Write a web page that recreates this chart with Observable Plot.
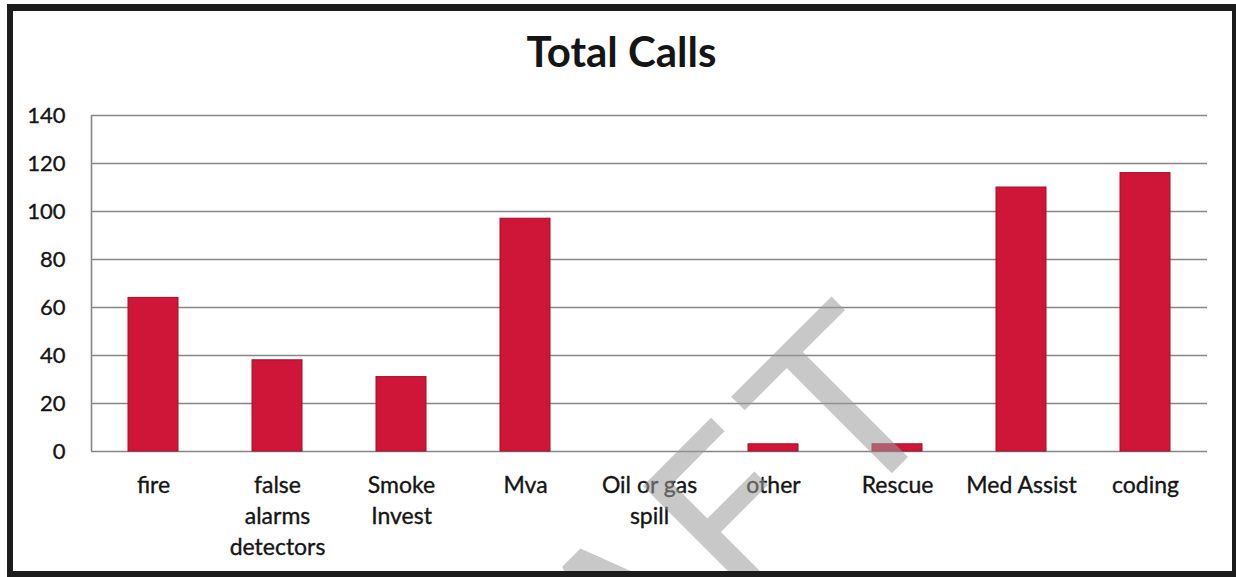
<!DOCTYPE html>
<html>
<head>
<meta charset="utf-8">
<script src="https://cdn.jsdelivr.net/npm/d3@7"></script>
<script src="https://cdn.jsdelivr.net/npm/@observablehq/plot@0.6"></script>
<style>
  html, body { margin: 0; padding: 0; background: #fff; }
  body { width: 1236px; height: 577px; overflow: hidden; position: relative; font-family: Lato, "Open Sans", sans-serif; }
  #chart { position: absolute; left: 0; top: 90px; }
  #chart text { stroke: #151515; stroke-width: 0.35px; }
  #title { position: absolute; left: 13px; width: 1217px; top: 30px; text-align: center; font: bold 42px/42px Lato, sans-serif; color: #151515; }
  #watermark { position: absolute; left: 0; top: 0; pointer-events: none; }
  #frame { position: absolute; left: 7px; top: 4px; width: 1229px; height: 573px; box-sizing: border-box;
           border-style: solid; border-color: #1c1c1c; border-width: 7px 4px 6px 6px; pointer-events: none; }
</style>
</head>
<body>
<div id="chart"></div>
<div id="title">Total Calls</div>
<svg id="watermark" width="1236" height="577">
  <g fill="#9a9a9a" fill-opacity="0.55" font-family="DejaVu Sans" font-size="230">
    <text x="839" y="527" text-anchor="end" transform="rotate(-45 839 527)">DRAF</text>
    <text x="900" y="465" text-anchor="middle" transform="rotate(-45 900 465)">T</text>
  </g>
</svg>
<div id="frame"></div>
<script>
const categories = ["fire", "false alarms detectors", "Smoke Invest", "Mva", "Oil or gas spill", "other", "Rescue", "Med Assist", "coding"];
const values = [64, 38, 31, 97, 0, 3, 3, 110, 116];
const tickLabels = ["fire", "false\nalarms\ndetectors", "Smoke\nInvest", "Mva", "Oil or gas\nspill", "other", "Rescue", "Med Assist", "coding"];
const yTicks = [0, 20, 40, 60, 80, 100, 120, 140];

const data = categories.map((c, i) => ({category: c, value: values[i]}));
const labelOf = new Map(categories.map((c, i) => [c, tickLabels[i]]));

const gridColor = "#868686";

const chart = Plot.plot({
  width: 1236,
  height: 480,
  marginLeft: 91,
  marginRight: 29,
  marginTop: 25,
  marginBottom: 119,
  style: {fontFamily: "Lato, sans-serif", fontSize: "22px", color: "#151515", background: "transparent", overflow: "visible"},
  x: {domain: categories, paddingInner: 0.6, paddingOuter: 0.3, label: null},
  y: {domain: [0, 140], label: null},
  marks: [
    Plot.gridY(yTicks, {stroke: gridColor, strokeOpacity: 1, strokeWidth: 1.6}),
    Plot.ruleX([categories[0]], {dx: -62, y1: 0, y2: 140, stroke: gridColor, strokeWidth: 1.6}),
    Plot.barY(data, {x: "category", y: "value", fill: "#cf1639", stroke: "#a50f2b", strokeWidth: 1}),
    Plot.axisY({ticks: yTicks, tickSize: 0, tickPadding: 26, fontSize: 22, label: null}),
    Plot.axisX({tickSize: 0, tickPadding: 19, fontSize: 23, lineHeight: 1.35, label: null,
                tickFormat: d => labelOf.get(d)})
  ]
});
document.getElementById("chart").appendChild(chart);
</script>
</body>
</html>
